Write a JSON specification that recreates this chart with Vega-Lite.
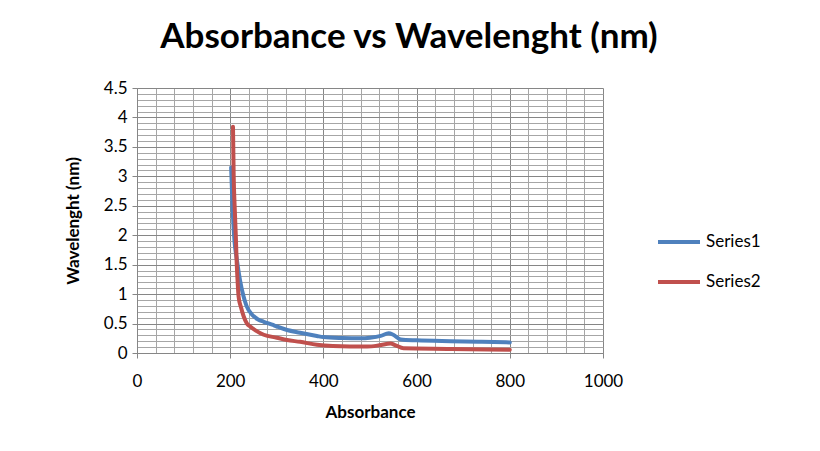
{
  "$schema": "https://vega.github.io/schema/vega-lite/v6.json",
  "width": 466,
  "height": 265,
  "autosize": {"type": "none"},
  "padding": {"left": 137, "top": 88, "right": 217, "bottom": 98},
  "background": "white",
  "title": {
    "text": "Absorbance vs Wavelenght (nm)",
    "font": "Lato",
    "fontSize": 35,
    "fontWeight": "bold",
    "color": "#000000",
    "anchor": "middle",
    "dx": 39,
    "offset": 24
  },
  "data": {
    "values": [
      {"series": "Series1", "x": 202, "y": 3.15},
      {"series": "Series1", "x": 205, "y": 2.5},
      {"series": "Series1", "x": 209, "y": 1.92},
      {"series": "Series1", "x": 214, "y": 1.6},
      {"series": "Series1", "x": 221, "y": 1.24},
      {"series": "Series1", "x": 228, "y": 0.98},
      {"series": "Series1", "x": 235, "y": 0.8},
      {"series": "Series1", "x": 247, "y": 0.65},
      {"series": "Series1", "x": 260, "y": 0.57},
      {"series": "Series1", "x": 272, "y": 0.53},
      {"series": "Series1", "x": 290, "y": 0.48},
      {"series": "Series1", "x": 300, "y": 0.45},
      {"series": "Series1", "x": 322, "y": 0.39},
      {"series": "Series1", "x": 350, "y": 0.345},
      {"series": "Series1", "x": 386, "y": 0.29},
      {"series": "Series1", "x": 400, "y": 0.27},
      {"series": "Series1", "x": 440, "y": 0.255},
      {"series": "Series1", "x": 480, "y": 0.25},
      {"series": "Series1", "x": 500, "y": 0.26},
      {"series": "Series1", "x": 523, "y": 0.29},
      {"series": "Series1", "x": 540, "y": 0.335},
      {"series": "Series1", "x": 550, "y": 0.31},
      {"series": "Series1", "x": 566, "y": 0.23},
      {"series": "Series1", "x": 600, "y": 0.215},
      {"series": "Series1", "x": 673, "y": 0.2},
      {"series": "Series1", "x": 740, "y": 0.19},
      {"series": "Series1", "x": 800, "y": 0.18},
      {"series": "Series2", "x": 206, "y": 3.84},
      {"series": "Series2", "x": 207.5, "y": 3.0},
      {"series": "Series2", "x": 209.5, "y": 2.5},
      {"series": "Series2", "x": 212, "y": 2.0},
      {"series": "Series2", "x": 214, "y": 1.52},
      {"series": "Series2", "x": 216, "y": 1.2},
      {"series": "Series2", "x": 218, "y": 0.96},
      {"series": "Series2", "x": 223, "y": 0.78},
      {"series": "Series2", "x": 229, "y": 0.62},
      {"series": "Series2", "x": 236, "y": 0.5},
      {"series": "Series2", "x": 243, "y": 0.45},
      {"series": "Series2", "x": 255, "y": 0.38},
      {"series": "Series2", "x": 272, "y": 0.31},
      {"series": "Series2", "x": 300, "y": 0.26},
      {"series": "Series2", "x": 322, "y": 0.22},
      {"series": "Series2", "x": 350, "y": 0.19},
      {"series": "Series2", "x": 386, "y": 0.14},
      {"series": "Series2", "x": 420, "y": 0.12},
      {"series": "Series2", "x": 494, "y": 0.11},
      {"series": "Series2", "x": 520, "y": 0.13},
      {"series": "Series2", "x": 544, "y": 0.16},
      {"series": "Series2", "x": 555, "y": 0.13},
      {"series": "Series2", "x": 572, "y": 0.08},
      {"series": "Series2", "x": 673, "y": 0.07},
      {"series": "Series2", "x": 800, "y": 0.055}
    ]
  },
  "mark": {"type": "line", "strokeWidth": 4, "interpolate": "monotone", "strokeCap": "round", "strokeJoin": "round"},
  "encoding": {
    "x": {
      "field": "x",
      "type": "quantitative",
      "title": "Absorbance",
      "scale": {"domain": [0, 1000], "nice": false, "zero": false},
      "axis": {
        "values": [0,40,80,120,160,200,240,280,320,360,400,440,480,520,560,600,640,680,720,760,800,840,880,920,960,1000],
        "format": "d",
        "labelFlush": false,
        "labelOverlap": false,
        "labelExpr": "datum.value % 200 === 0 ? datum.label : ''",
        "grid": true,
        "gridColor": {"condition": {"test": "datum.value % 200 === 0", "value": "#868686"}, "value": "#a6a6a6"},
        "gridWidth": 1,
        "tickSize": {"condition": {"test": "datum.value % 200 === 0", "value": 5}, "value": 0},
        "tickColor": "#868686",
        "domainColor": "#868686",
        "labelFont": "Lato",
        "labelFontSize": 17,
        "labelColor": "#000000",
        "labelPadding": 15,
        "titleFont": "Lato",
        "titleFontSize": 17,
        "titleFontWeight": "bold",
        "titleColor": "#000000",
        "titlePadding": 15
      }
    },
    "y": {
      "field": "y",
      "type": "quantitative",
      "title": "Wavelenght (nm)",
      "scale": {"domain": [0, 4.5], "nice": false},
      "axis": {
        "values": [0,0.1,0.2,0.3,0.4,0.5,0.6,0.7,0.8,0.9,1,1.1,1.2,1.3,1.4,1.5,1.6,1.7,1.8,1.9,2,2.1,2.2,2.3,2.4,2.5,2.6,2.7,2.8,2.9,3,3.1,3.2,3.3,3.4,3.5,3.6,3.7,3.8,3.9,4,4.1,4.2,4.3,4.4,4.5],
        "labelExpr": "abs(datum.value*2 - round(datum.value*2)) < 0.001 ? format(datum.value, '') : ''",
        "labelFlush": false,
        "labelOverlap": false,
        "grid": true,
        "gridColor": {"condition": {"test": "abs(datum.value*2 - round(datum.value*2)) < 0.001", "value": "#868686"}, "value": "#a6a6a6"},
        "gridWidth": 1,
        "tickSize": {"condition": {"test": "abs(datum.value*2 - round(datum.value*2)) < 0.001", "value": 5}, "value": 0},
        "tickColor": "#868686",
        "domainColor": "#868686",
        "labelFont": "Lato",
        "labelFontSize": 17,
        "labelColor": "#000000",
        "labelPadding": 5,
        "titleFont": "Lato",
        "titleFontSize": 17,
        "titleFontWeight": "bold",
        "titleColor": "#000000",
        "titlePadding": 21
      }
    },
    "color": {
      "field": "series",
      "type": "nominal",
      "scale": {"domain": ["Series1", "Series2"], "range": ["#4F81BD", "#C0504D"]},
      "legend": {
        "title": null,
        "orient": "none",
        "legendX": 519,
        "legendY": 131,
        "symbolType": "stroke",
        "symbolSize": 1764,
        "symbolStrokeWidth": 4,
        "rowPadding": 9,
        "labelFont": "Lato",
        "labelFontSize": 17,
        "labelColor": "#000000",
        "labelOffset": 4
      }
    }
  },
  "config": {"view": {"stroke": null}}
}
